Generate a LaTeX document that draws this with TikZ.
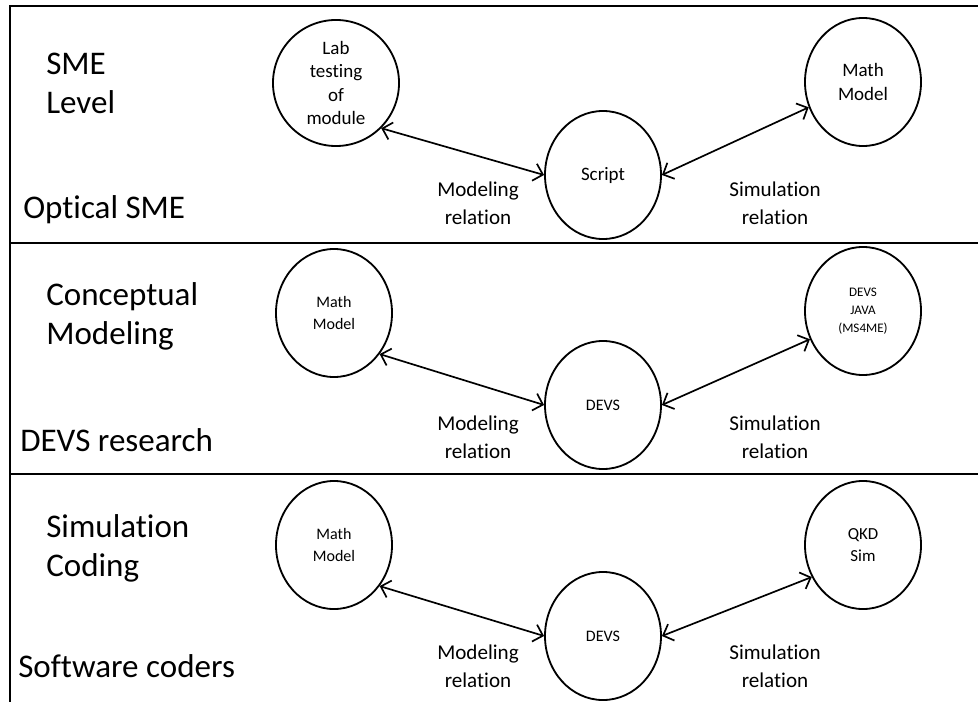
\documentclass[tikz,border=0pt]{standalone}
\usepackage{fontspec}
\setmainfont{Carlito}[Ligatures=NoCommon]
\usetikzlibrary{arrows.meta,positioning,shapes.geometric}

\begin{document}
\begin{tikzpicture}[x=0.025cm,y=-0.025cm,
  lvl/.style={anchor=west,align=left,inner sep=0pt,font=\fontsize{23.5}{27.7}\selectfont},
  crc/.style={draw,ellipse,line width=1.3pt,inner sep=0pt,minimum width=29mm,minimum height=32mm,align=center},
  big/.style={crc,font=\fontsize{13.5}{16.7}\selectfont},
  sml/.style={crc,font=\fontsize{11.4}{15}\selectfont},
  rel/.style={align=center,inner sep=0pt,font=\fontsize{15}{20}\selectfont},
  ar/.style={{Straight Barb[length=2.2mm,width=4.4mm]}-{Straight Barb[length=2.2mm,width=4.4mm]},line width=1.2pt},
  frm/.style={line width=1.6pt}]
\useasboundingbox (0,0) rectangle (978,702);
% frame and level rules
\draw[frm] (10,702) |- (978,6);
\draw[frm] (10,243) -- (978,243);
\draw[frm] (10,474) -- (978,474);
% SME level
\node[lvl] (t1) at (46,83) {SME\\Level};
\node[lvl] (b1) at (23,210) {Optical SME};
\node[big,minimum width=31.5mm,minimum height=31.5mm] (lab) at (336,83) {Lab\\testing\\of\\module};
\node[big] (script) at (603,175) {Script};
\node[big] (mathA) at (863,82) {Math\\Model};
\node[rel] (mrA) at (478,203) {Modeling\\relation};
\node[rel] (srA) at (775,203) {Simulation\\relation};
\draw[ar] (lab.-45) -- (script.west);
\draw[ar] (script.east) -- (mathA.205);
% DEVS research
\node[lvl] (t2) at (46,316) {Conceptual\\Modeling};
\node[lvl] (b2) at (20,440) {DEVS research};
\node[sml] (mathB) at (334,313) {Math\\Model};
\node[sml] (devsB) at (603,405) {DEVS};
\node[crc,font=\fontsize{9.3}{13}\selectfont] (javaB) at (863,311) {DEVS\\JAVA\\(MS4ME)};
\node[rel] (mrB) at (478,437) {Modeling\\relation};
\node[rel] (srB) at (775,437) {Simulation\\relation};
\draw[ar] (mathB.-42) -- (devsB.west);
\draw[ar] (devsB.east) -- (javaB.208);
% Software coders
\node[lvl] (t3) at (46,548) {Simulation\\Coding};
\node[lvl] (b3) at (18,666) {Software coders};
\node[sml] (mathC) at (334,545) {Math\\Model};
\node[sml] (devsC) at (603,636) {DEVS};
\node[sml,font=\fontsize{12}{15.5}\selectfont] (qkd) at (863,545) {QKD\\Sim};
\node[rel] (mrC) at (478,666) {Modeling\\relation};
\node[rel] (srC) at (775,666) {Simulation\\relation};
\draw[ar] (mathC.-42) -- (devsC.west);
\draw[ar] (devsC.east) -- (qkd.212);
\end{tikzpicture}
\end{document}
